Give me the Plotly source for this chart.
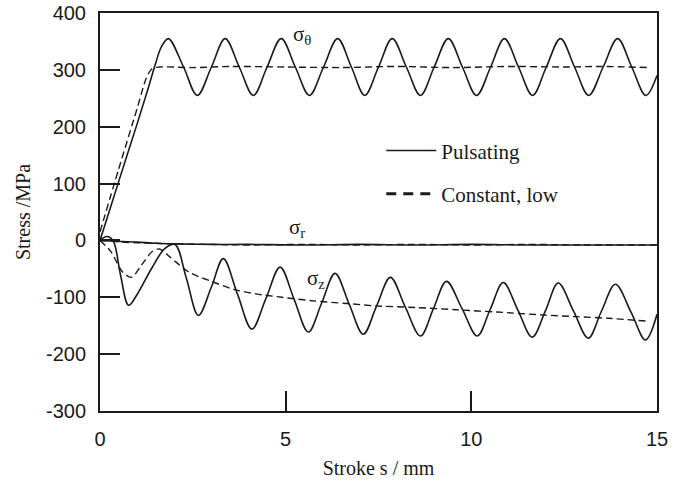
import plotly.graph_objects as go

# ---- data ----
theta_puls_x = [0, 0.5, 1.0, 1.3, 1.5, 1.65, 1.84, 2.25, 2.62, 3.0, 3.37, 3.75, 4.13, 4.5, 4.88,
                5.26, 5.64, 6.02, 6.4, 6.77, 7.13, 7.5, 7.87, 8.25, 8.63, 9.0, 9.38, 9.76,
                10.14, 10.52, 10.89, 11.27, 11.65, 12.02, 12.4, 12.78, 13.16, 13.55, 13.94,
                14.32, 14.7, 15.0]
theta_puls_y = [0, 103, 205, 268, 312, 340, 355, 305, 255, 305, 355, 305, 255, 305, 355,
                305, 255, 305, 355, 305, 255, 305, 355, 305, 255, 305, 355, 305,
                255, 305, 355, 305, 255, 305, 355, 305, 255, 305, 355,
                305, 255, 290]

theta_const_x = [0, 0.5, 1.0, 1.25, 1.4, 1.6, 2.5, 3.5, 5, 6.5, 8, 9.5, 11, 12.5, 13.5, 14.8]
theta_const_y = [15, 125, 232, 286, 302, 305, 304, 306, 305, 304, 306, 304, 306, 305, 306, 304]

r_puls_x = [0, 0.3, 0.6, 1.0, 1.5, 2.0, 3.0, 4.0, 5.5, 7.0, 8.5, 10.0, 11.5, 13.0, 15.0]
r_puls_y = [0, -1, -2, -3, -5, -6, -7, -7, -8, -7, -8, -7, -8, -8, -8]

r_const_x = [0, 0.3, 0.6, 1.0, 1.5, 2.0, 3.0, 4.0, 5.5, 7.0, 8.5, 10.0, 11.5, 13.0, 15.0]
r_const_y = [0, -1, -3, -4, -5, -6, -7, -8, -7, -8, -7, -8, -7, -8, -8]

z_puls_x = [0, 0.18, 0.35, 0.55, 0.77, 1.0, 1.4, 1.75, 2.02, 2.32, 2.65, 3.0, 3.32, 3.7,
            4.09, 4.47, 4.85, 5.23, 5.61, 5.97, 6.33, 6.71, 7.09, 7.45, 7.82, 8.22, 8.63,
            8.98, 9.33, 9.75, 10.16, 10.51, 10.86, 11.25, 11.64, 12.0, 12.34, 12.75, 13.15,
            13.5, 13.88, 14.3, 14.69, 15.0]
z_puls_y = [0, 7, 0, -60, -114, -95, -48, -14, -7, -65, -132, -82, -32, -94,
            -156, -102, -47, -104, -161, -110, -58, -112, -165, -115, -65, -117, -168,
            -120, -72, -120, -168, -121, -74, -122, -170, -123, -75, -124, -172,
            -125, -77, -126, -175, -130]

z_const_x = [0, 0.3, 0.6, 0.85, 1.1, 1.4, 1.6, 1.9, 2.4, 3.0, 3.6, 4.2, 4.9, 5.7, 6.65,
             7.4, 8.5, 9.6, 10.7, 11.9, 12.8, 13.7, 14.75]
z_const_y = [0, -20, -55, -65, -45, -20, -15, -30, -56, -72, -86, -94, -100, -106, -111,
             -115, -118, -122, -126, -131, -134, -137, -142]

legend_names = ["Pulsating", "Constant, low"]
x_ticks = [0, 5, 10, 15]
x_tick_text = ["0", "5", "10", "15"]
y_ticks = [-300, -200, -100, 0, 100, 200, 300, 400]
y_tick_text = ["-300", "-200", "-100", "0", "100", "200", "300", "400"]

LINE = "#1a1a1a"
SERIF = "Liberation Serif, Times New Roman, serif"
SANS = "Liberation Sans, Arial, sans-serif"

fig = go.Figure()

def solid(x, y):
    fig.add_trace(go.Scatter(x=x, y=y, mode="lines", showlegend=False, hoverinfo="skip",
                             line=dict(color=LINE, width=1.6, shape="spline", smoothing=1.0)))

def dashed(x, y):
    fig.add_trace(go.Scatter(x=x, y=y, mode="lines", showlegend=False, hoverinfo="skip",
                             line=dict(color=LINE, width=1.4, dash="7px,4px",
                                       shape="spline", smoothing=0.8)))

dashed(theta_const_x, theta_const_y)
dashed(r_const_x, r_const_y)
dashed(z_const_x, z_const_y)
solid(theta_puls_x, theta_puls_y)
solid(r_puls_x, r_puls_y)
solid(z_puls_x, z_puls_y)

# legend entries
fig.add_trace(go.Scatter(x=[None], y=[None], mode="lines", name=legend_names[0],
                         legendgroup="a", line=dict(color=LINE, width=1.6)))
fig.add_trace(go.Scatter(x=[None], y=[None], mode="lines", name=legend_names[1],
                         legendgroup="b", line=dict(color=LINE, width=3, dash="10px,7px")))

# curve labels
labels = [(5.45, 362, "σ<sub>θ</sub>"), (5.3, 21, "σ<sub>r</sub>"), (5.82, -68, "σ<sub>z</sub>")]
for lx, ly, lt in labels:
    fig.add_annotation(x=lx, y=ly, text=lt, showarrow=False,
                       font=dict(family=SERIF, size=21, color=LINE))

fig.update_layout(
    width=688, height=483,
    margin=dict(l=100, r=31, t=13, b=72),
    paper_bgcolor="white", plot_bgcolor="white",
    showlegend=True,
    legend=dict(x=0.505, y=0.705, xanchor="left", yanchor="top",
                font=dict(family=SERIF, size=21, color=LINE),
                bgcolor="rgba(0,0,0,0)", tracegroupgap=13, itemwidth=50),
    xaxis=dict(range=[0, 15], tickvals=x_ticks, ticktext=x_tick_text, ticks="inside",
               ticklen=20, tickwidth=1.5, automargin=False,
               tickcolor=LINE, showline=True, linecolor=LINE, linewidth=2, mirror=True,
               showgrid=False, zeroline=False,
               tickfont=dict(family=SANS, size=20, color=LINE), ticklabelstandoff=9,
               title=dict(text="Stroke s / mm", font=dict(family=SERIF, size=20, color=LINE),
                          standoff=12)),
    yaxis=dict(range=[-300, 400], tickvals=y_ticks, ticktext=y_tick_text, ticks="inside",
               ticklen=20, tickwidth=1.5, automargin=False,
               tickcolor=LINE, showline=True, linecolor=LINE, linewidth=2, mirror=True,
               showgrid=False, zeroline=False,
               tickfont=dict(family=SANS, size=20, color=LINE), ticklabelstandoff=8,
               title=dict(text="Stress /MPa", font=dict(family=SERIF, size=20, color=LINE),
                          standoff=10)),
)

fig.write_html("out.html")
